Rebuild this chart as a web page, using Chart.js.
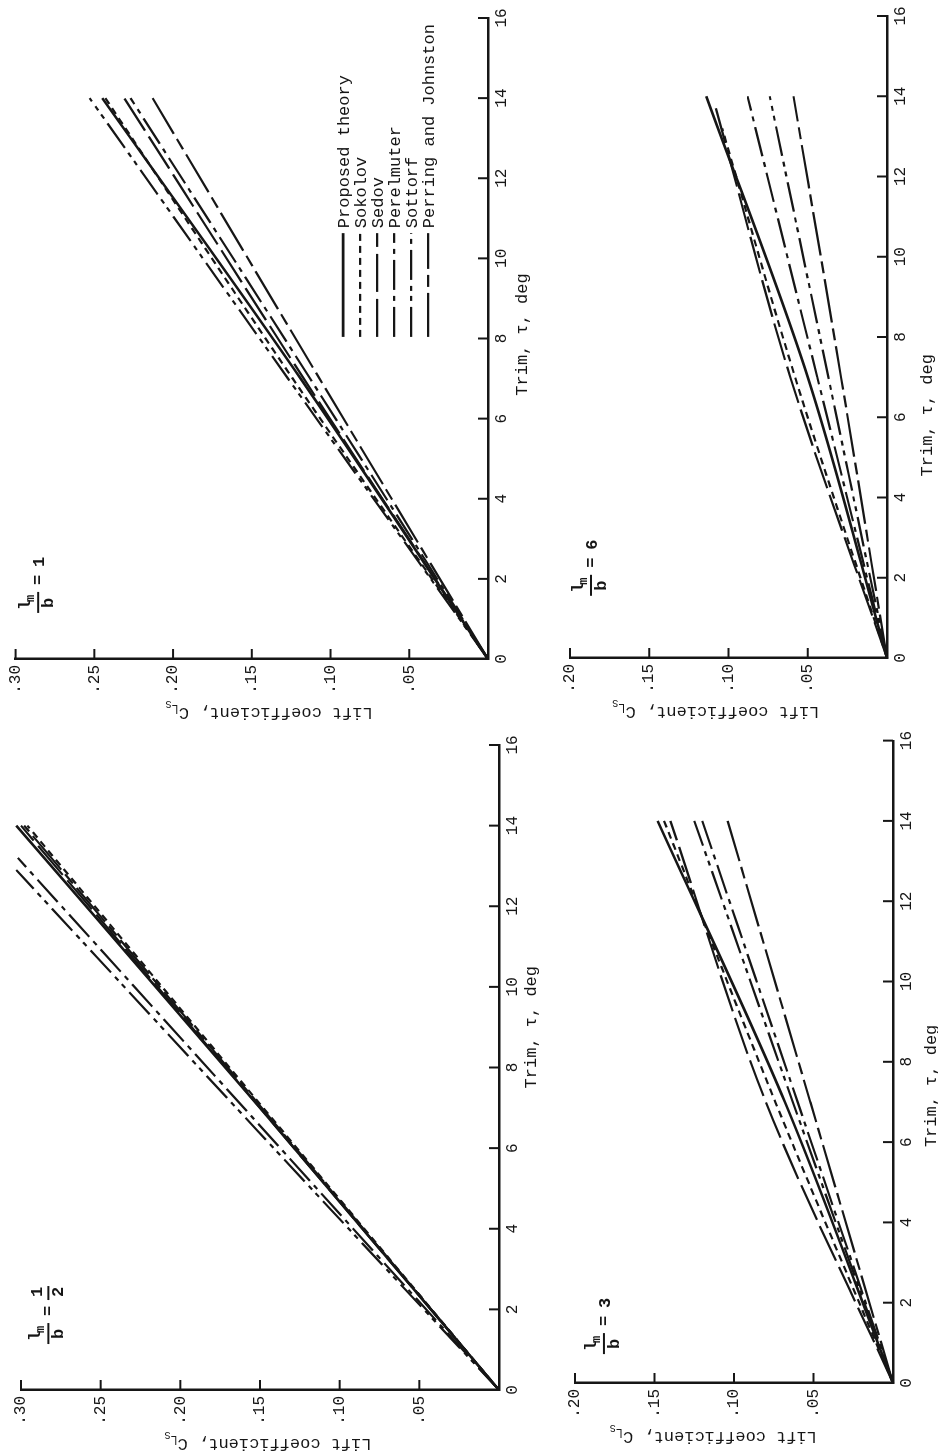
<!DOCTYPE html>
<html>
<head>
<meta charset="utf-8">
<title>Lift coefficient vs trim</title>
<script src="https://cdn.jsdelivr.net/npm/chart.js@4.4.1/dist/chart.umd.min.js"></script>
<style>
    html, body { margin: 0; padding: 0; background: #fff; }
    #page { position: relative; width: 938px; height: 1454px; overflow: hidden; background: #fff; }
    .panel { position: absolute; }
    .panel canvas { position: absolute; transform: rotate(-90deg); }
</style>
</head>
<body>
<div id="page">
    <div class="panel" id="p1"><canvas id="c1"></canvas></div>
    <div class="panel" id="p6"><canvas id="c6"></canvas></div>
    <div class="panel" id="pHalf"><canvas id="cHalf"></canvas></div>
    <div class="panel" id="p3"><canvas id="c3"></canvas></div>
</div>
<script>
// Series, in legend order
const seriesNames = ['Proposed theory', 'Sokolov', 'Sedov', 'Perelmuter', 'Sottorf', 'Perring and Johnston'];

// Tick values and labels
const trimTicks = [0, 2, 4, 6, 8, 10, 12, 14, 16];
const clTicksTall = [0, 0.05, 0.10, 0.15, 0.20, 0.25, 0.30];
const clLabelsTall = ['', '.05', '.10', '.15', '.20', '.25', '.30'];
const clTicksShort = [0, 0.05, 0.10, 0.15, 0.20];
const clLabelsShort = ['', '.05', '.10', '.15', '.20'];

// l_m/b = 1 (trim, deg / lift coefficient)
const oneTrim = [[0, 7, 14], [0, 7, 14], [0, 7, 14], [0, 7, 14], [0, 7, 14], [0, 7, 14]];
const oneCL = [[0, 0.119, 0.245], [0, 0.124, 0.243], [0, 0.117, 0.231], [0, 0.113, 0.227], [0, 0.127, 0.253], [0, 0.107, 0.213]];

// l_m/b = 6
const sixTrim = [[0, 7, 14], [0, 7, 13.2], [0, 7, 13.7], [0, 7, 14], [0, 7, 14], [0, 7, 14]];
const sixCL = [[0, 0.050, 0.114], [0, 0.058, 0.104], [0, 0.061, 0.108], [0, 0.044, 0.088], [0, 0.037, 0.074], [0, 0.029, 0.059]];

// l_m/b = 1/2
const halfTrim = [[0, 7, 14], [0, 7, 14], [0, 7, 14], [0, 6.6, 13.2], [0, 6.45, 12.9], [0, 7, 14]];
const halfCL = [[0, 0.150, 0.303], [0, 0.148, 0.296], [0, 0.150, 0.300], [0, 0.151, 0.302], [0, 0.152, 0.303], [0, 0.149, 0.298]];

// l_m/b = 3
const threeTrim = [[0, 7, 14], [0, 7, 14], [0, 7, 14], [0, 7, 14], [0, 7, 14], [0, 7, 14]];
const threeCL = [[0, 0.068, 0.148], [0, 0.074, 0.144], [0, 0.080, 0.140], [0, 0.060, 0.120], [0, 0.063, 0.125], [0, 0.052, 0.104]];

// Line styles
const lineDash = [[], [7, 5], [38, 7], [30, 6, 5, 6], [30, 6, 5, 5, 5, 6], [44, 6, 12, 6]];
const lineWidth = [2.6, 2.2, 2.2, 2.2, 2.2, 2.2];

const INK = '#161616';
const MONO = "'Liberation Mono', 'DejaVu Sans Mono', monospace";

// Inward ticks, axis titles, panel tag and legend
function makeDecor(p) {
    return {
        id: 'decor',
        afterDraw(chart) {
            const ctx = chart.ctx;
            const a = chart.chartArea;
            const x = chart.scales.x;
            const y = chart.scales.y;
            const line = (x0, y0, x1, y1) => {
                ctx.beginPath();
                ctx.moveTo(x0, y0);
                ctx.lineTo(x1, y1);
                ctx.stroke();
            };
            ctx.save();
            ctx.strokeStyle = INK;
            ctx.fillStyle = INK;
            ctx.lineWidth = 2;

            trimTicks.forEach(v => {
                const px = x.getPixelForValue(v);
                line(px, a.bottom, px, a.bottom - 10);
            });
            p.clTicks.forEach(v => {
                if (v === 0) return;
                const py = y.getPixelForValue(v);
                line(a.left, py, a.left + 10, py);
            });

            // Trim title
            ctx.font = '17px ' + MONO;
            ctx.textAlign = 'center';
            ctx.textBaseline = 'middle';
            ctx.fillText('Trim, \u03c4, deg', x.getPixelForValue(p.trimTitleAt), a.bottom + p.trimTitleGap);

            // Lift coefficient title with subscripts
            ctx.save();
            ctx.translate(a.left - 54, y.getPixelForValue(p.clTitleAt));
            ctx.rotate(-Math.PI / 2);
            const parts = [['Lift coefficient, C', 17, 0], ['L', 12, 5], ['S', 10, 9]];
            let total = 0;
            parts.forEach(pt => {
                ctx.font = pt[1] + 'px ' + MONO;
                total += ctx.measureText(pt[0]).width;
            });
            let cur = -total / 2;
            ctx.textAlign = 'left';
            parts.forEach(pt => {
                ctx.font = pt[1] + 'px ' + MONO;
                ctx.fillText(pt[0], cur, pt[2]);
                cur += ctx.measureText(pt[0]).width;
            });
            ctx.restore();

            // l_m / b = value
            const ax = x.getPixelForValue(p.tag.trim);
            const ay = y.getPixelForValue(p.tag.cl);
            ctx.textAlign = 'left';
            ctx.textBaseline = 'alphabetic';
            ctx.font = 'bold 17px ' + MONO;
            ctx.fillText('l', ax + 3, ay + 13);
            ctx.font = 'bold 12px ' + MONO;
            ctx.fillText('m', ax + 11, ay + 17);
            line(ax, ay + 21, ax + 21, ay + 21);
            ctx.font = 'bold 17px ' + MONO;
            ctx.fillText('b', ax + 5, ay + 36);
            ctx.fillText('=', ax + 28, ay + 26);
            if (p.tag.value.length === 1) {
                ctx.fillText(p.tag.value[0], ax + 46, ay + 27);
            } else {
                ctx.fillText(p.tag.value[0], ax + 47, ay + 15);
                line(ax + 44, ay + 21, ax + 58, ay + 21);
                ctx.fillText(p.tag.value[1], ax + 47, ay + 36);
            }

            // Legend
            if (p.legend) {
                const x0 = x.getPixelForValue(p.legend.from);
                const x1 = x.getPixelForValue(p.legend.to);
                ctx.font = '17px ' + MONO;
                ctx.textBaseline = 'middle';
                seriesNames.forEach((name, r) => {
                    const py = y.getPixelForValue(p.legend.cl - r * p.legend.step);
                    ctx.lineWidth = lineWidth[r];
                    ctx.setLineDash(lineDash[r]);
                    line(x0, py, x1, py);
                    ctx.setLineDash([]);
                    ctx.fillText(name, x1 + 5, py + 1);
                });
            }
            ctx.restore();
        }
    };
}

function buildPanel(wrapId, canvasId, p) {
    const W = p.wrap.w, H = p.wrap.h;
    const wrap = document.getElementById(wrapId);
    wrap.style.left = p.wrap.left + 'px';
    wrap.style.top = p.wrap.top + 'px';
    wrap.style.width = W + 'px';
    wrap.style.height = H + 'px';

    // canvas is drawn unrotated, then turned 90 degrees counter-clockwise
    const canvas = document.getElementById(canvasId);
    canvas.width = H;
    canvas.height = W;
    canvas.style.width = H + 'px';
    canvas.style.height = W + 'px';
    canvas.style.left = ((W - H) / 2) + 'px';
    canvas.style.top = ((H - W) / 2) + 'px';

    const areaLeft = H - (p.plot.yb - p.wrap.top);
    const areaRight = H - (p.plot.yt - p.wrap.top);
    const areaTop = p.plot.xl - p.wrap.left;
    const areaBottom = p.plot.xr - p.wrap.left;

    const datasets = seriesNames.map((name, i) => ({
        label: name,
        data: p.trims[i].map((t, k) => ({ x: t, y: p.cls[i][k] })),
        showLine: true,
        borderColor: INK,
        borderWidth: lineWidth[i],
        borderDash: lineDash[i],
        pointRadius: 0,
        fill: false,
        cubicInterpolationMode: 'monotone',
        clip: false
    }));

    return new Chart(canvas.getContext('2d'), {
        type: 'scatter',
        data: { datasets: datasets },
        options: {
            responsive: false,
            animation: false,
            devicePixelRatio: 1,
            layout: { padding: { left: 0, top: areaTop, right: H - areaRight, bottom: 0 } },
            plugins: { legend: { display: false }, tooltip: { enabled: false } },
            scales: {
                x: {
                    type: 'linear',
                    min: 0,
                    max: 16,
                    afterBuildTicks: s => { s.ticks = trimTicks.map(v => ({ value: v })); },
                    afterFit: s => { s.height = W - areaBottom; },
                    ticks: {
                        autoSkip: false,
                        maxRotation: 0,
                        padding: 4,
                        color: INK,
                        font: { family: MONO, size: 16 }
                    },
                    grid: { display: false, drawTicks: false },
                    border: { display: true, color: INK, width: 2.5 }
                },
                y: {
                    type: 'linear',
                    min: 0,
                    max: p.clMax,
                    afterBuildTicks: s => { s.ticks = p.clTicks.map(v => ({ value: v })); },
                    afterFit: s => { s.width = areaLeft; },
                    ticks: {
                        padding: 6,
                        color: INK,
                        font: { family: MONO, size: 16 },
                        callback: function (v) {
                            const i = p.clTicks.findIndex(t => Math.abs(t - v) < 1e-6);
                            return i < 0 ? '' : p.clLabels[i];
                        }
                    },
                    grid: { display: false, drawTicks: false },
                    border: { display: true, color: INK, width: 2.5 }
                }
            }
        },
        plugins: [makeDecor(p)]
    });
}

// l_m/b = 1, upper left, with the legend
buildPanel('p1', 'c1', {
    wrap: { left: 0, top: 0, w: 545, h: 727 },
    plot: { xl: 12, xr: 488, yt: 18, yb: 659 },
    clMax: 0.30, clTicks: clTicksTall, clLabels: clLabelsTall,
    trims: oneTrim, cls: oneCL,
    trimTitleAt: 8.1, trimTitleGap: 34, clTitleAt: 0.139,
    tag: { trim: 1.15, cl: 0.299, value: ['1'] },
    legend: { cl: 0.092, step: 0.0108, from: 8.04, to: 10.63 }
});

// l_m/b = 6, upper right
buildPanel('p6', 'c6', {
    wrap: { left: 545, top: 0, w: 393, h: 727 },
    plot: { xl: 570, xr: 887, yt: 16, yb: 658 },
    clMax: 0.20, clTicks: clTicksShort, clLabels: clLabelsShort,
    trims: sixTrim, cls: sixCL,
    trimTitleAt: 6.05, trimTitleGap: 40, clTitleAt: 0.108,
    tag: { trim: 1.55, cl: 0.20, value: ['6'] },
    legend: null
});

// l_m/b = 1/2, lower left
buildPanel('pHalf', 'cHalf', {
    wrap: { left: 0, top: 727, w: 545, h: 727 },
    plot: { xl: 21, xr: 499, yt: 745, yb: 1390 },
    clMax: 0.30, clTicks: clTicksTall, clLabels: clLabelsTall,
    trims: halfTrim, cls: halfCL,
    trimTitleAt: 9.0, trimTitleGap: 32, clTitleAt: 0.145,
    tag: { trim: 1.14, cl: 0.296, value: ['1', '2'] },
    legend: null
});

// l_m/b = 3, lower right
buildPanel('p3', 'c3', {
    wrap: { left: 545, top: 727, w: 393, h: 727 },
    plot: { xl: 575, xr: 893, yt: 740, yb: 1383 },
    clMax: 0.20, clTicks: clTicksShort, clLabels: clLabelsShort,
    trims: threeTrim, cls: threeCL,
    trimTitleAt: 7.4, trimTitleGap: 38, clTitleAt: 0.113,
    tag: { trim: 0.72, cl: 0.195, value: ['3'] },
    legend: null
});
</script>
</body>
</html>
